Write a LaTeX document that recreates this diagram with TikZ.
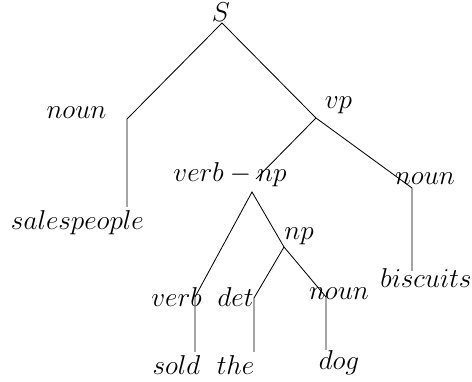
\RequirePackage{fix-cm}
\documentclass[tikz,border=0pt]{standalone}
\usetikzlibrary{positioning}

\begin{document}
\begin{tikzpicture}[
    word/.style={inner sep=0pt, anchor=base, font=\fontsize{19.4}{23}\selectfont},
    branch/.style={line width=0.6pt},
]
\useasboundingbox (0,0) rectangle (11.8,9.55);

% Branch points
\coordinate (s) at (5.55, 8.975);
\coordinate (nl) at (3.175, 6.575);
\coordinate (nlend) at (3.175, 4.375);
\coordinate (vp) at (7.9, 6.6);
\coordinate (vntop) at (6.4, 5.075);
\coordinate (vnbot) at (6.3, 4.75);
\coordinate (nr) at (10.3, 4.85);
\coordinate (nrend) at (10.3, 2.775);
\coordinate (np) at (7.1, 3.375);
\coordinate (vb) at (4.875, 2.125);
\coordinate (vbend) at (4.875, 0.75);
\coordinate (dt) at (6.35, 2.1);
\coordinate (dtend) at (6.35, 0.75);
\coordinate (nb) at (8.15, 2.125);
\coordinate (nbend) at (8.15, 0.8);

% Labels
\node[word] (sl) at (5.525, 9.0) {$S$};
\node[word] (nounl) at (1.9125, 6.575) {$noun$};
\node[word] (sales) at (1.9375, 3.8) {$salespeople$};
\node[word] (vpl) at (8.4625, 6.825) {$vp$};
\node[word] (verbnp) at (5.75, 5.0) {$verb-np$};
\node[word] (nounr) at (10.625, 4.925) {$noun$};
\node[word] (npl) at (7.475, 3.55) {$np$};
\node[word] (bisc) at (10.65, 2.35) {$biscuits$};
\node[word] (verbl) at (4.4125, 1.875) {$verb$};
\node[word] (detl) at (5.8875, 1.875) {$det$};
\node[word] (nounb) at (8.475, 2.05) {$noun$};
\node[word] (sold) at (4.4125, 0.175) {$sold$};
\node[word] (the) at (5.8875, 0.175) {$the$};
\node[word] (dog) at (8.475, 0.3) {$dog$};

% Tree
\draw[branch] (nlend) -- (nl) -- (s) -- (vp) -- (nr) -- (nrend);
\draw[branch] (vp) -- (vntop);
\draw[branch] (vbend) -- (vb) -- (vnbot) -- (np) -- (nb) -- (nbend);
\draw[branch] (np) -- (dt) -- (dtend);

\end{tikzpicture}
\end{document}
